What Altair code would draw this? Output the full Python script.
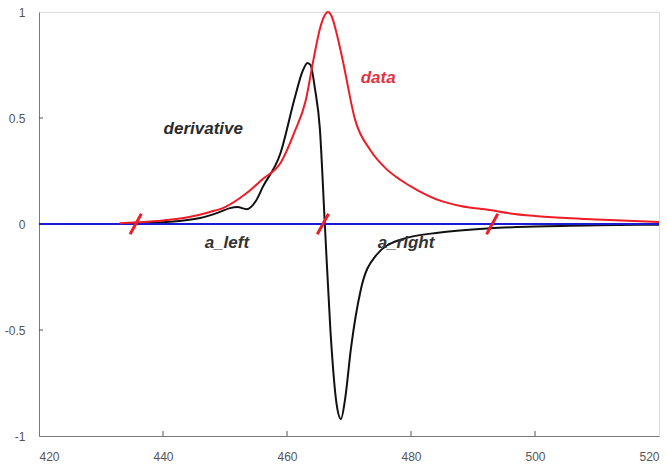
import altair as alt
import pandas as pd

# Spectrum (normalised) and its derivative
data_x = [433, 436, 440, 444, 447.6, 450, 453.5, 456, 459, 461.3, 463, 464.3,
          465.3, 466.0, 466.6, 467.2, 468, 469, 471, 473.4, 476, 478.2, 481,
          484.7, 488, 492.7, 496, 500, 505, 510, 515, 520]
data_y = [0.003, 0.008, 0.017, 0.032, 0.057, 0.08, 0.146, 0.21, 0.29, 0.44,
          0.58, 0.78, 0.92, 0.98, 1.0, 0.98, 0.9, 0.77, 0.49, 0.35, 0.26, 0.21,
          0.16, 0.11, 0.085, 0.066, 0.05, 0.038, 0.028, 0.021, 0.015, 0.01]

deriv_x = [434, 440, 446, 449, 450.8, 452, 453.5, 455, 456.1, 458.9, 461.3,
           462.5, 463.3, 463.8, 464.5, 465.3, 466.1, 467, 468, 468.7, 469.4,
           470.3, 471.9, 474.3, 478.2, 484.7, 492.7, 500, 510, 520]
deriv_y = [0.0, 0.008, 0.028, 0.055, 0.075, 0.08, 0.07, 0.11, 0.175, 0.33,
           0.6, 0.72, 0.76, 0.75, 0.64, 0.45, 0.0, -0.5, -0.85, -0.92, -0.82,
           -0.59, -0.31, -0.15, -0.075, -0.04, -0.02, -0.012, -0.006, -0.003]

# Zero crossings marked on the baseline
marker_x = [435.6, 465.8, 493.1]

# Annotations
label_text = ["derivative", "data", "a_left", "a_right"]
label_x = [446.5, 474.7, 450.3, 479.2]
label_y = [0.45, 0.69, -0.09, -0.09]
label_color = ["#2b2b2b", "#e23345", "#333333", "#333333"]

x_ticks = [420, 440, 460, 480, 500, 520]
y_ticks = [-1, -0.5, 0, 0.5, 1]

W, H = 620, 424

xs = alt.Scale(domain=[420, 520], nice=False, zero=False)
ys = alt.Scale(domain=[-1, 1], nice=False)

x_axis = alt.Axis(values=x_ticks, ticks=False, grid=False, labelPadding=15,
                  labelFontSize=12, labelColor="#555555", domainColor="#7a7a7a",
                  labelFont="Liberation Sans", title=None)
y_axis = alt.Axis(values=y_ticks, ticks=False, grid=False, labelPadding=14,
                  labelFontSize=12, labelColor="#555555", domainColor="#7a7a7a",
                  labelFont="Liberation Sans", title=None,
                  labelExpr="datum.value + ''")

df_data = pd.DataFrame({"x": data_x, "y": data_y})
df_der = pd.DataFrame({"x": deriv_x, "y": deriv_y})
df_zero = pd.DataFrame({"x": [420, 520], "y": [0, 0]})
df_mark = pd.DataFrame({"x": marker_x, "y": [0] * len(marker_x)})
df_lab = pd.DataFrame({"t": label_text, "x": label_x, "y": label_y, "c": label_color})
df_xt = pd.DataFrame({"v": x_ticks[1:-1]})
df_yt = pd.DataFrame({"v": [-0.5, 0.5]})

deriv = alt.Chart(df_der).mark_line(color="#111111", strokeWidth=2,
                                    interpolate="monotone").encode(
    x=alt.X("x:Q", scale=xs, axis=x_axis),
    y=alt.Y("y:Q", scale=ys, axis=y_axis),
)

base_line = alt.Chart(df_zero).mark_line(color="#1a1ad4", strokeWidth=2).encode(
    x=alt.X("x:Q", scale=xs), y=alt.Y("y:Q", scale=ys))

spec = alt.Chart(df_data).mark_line(color="#ee1c25", strokeWidth=2,
                                    interpolate="monotone").encode(
    x=alt.X("x:Q", scale=xs), y=alt.Y("y:Q", scale=ys))

slashes = alt.Chart(df_mark).mark_point(
    shape="M-0.55,1L0.55,-1", size=420, filled=False, color="#e8202a",
    strokeWidth=3, opacity=1).encode(
    x=alt.X("x:Q", scale=xs), y=alt.Y("y:Q", scale=ys))

labels = alt.Chart(df_lab).mark_text(
    font="Liberation Sans", fontSize=17, fontStyle="italic", fontWeight="bold",
    align="center", baseline="middle").encode(
    x=alt.X("x:Q", scale=xs), y=alt.Y("y:Q", scale=ys),
    text="t:N", color=alt.Color("c:N", scale=None))

# inward tick marks
xticks = alt.Chart(df_xt).mark_rule(color="#555555").encode(
    x=alt.X("v:Q", scale=xs), y=alt.value(H), y2=alt.value(H - 5))
yticks = alt.Chart(df_yt).mark_rule(color="#555555").encode(
    y=alt.Y("v:Q", scale=ys), x=alt.value(0), x2=alt.value(4))

chart = alt.layer(deriv, base_line, spec, slashes, labels, xticks, yticks).properties(
    width=W, height=H,
    autosize=alt.AutoSizeParams(type="none"),
    padding={"left": 39, "top": 12, "right": 8, "bottom": 28},
).configure_view(stroke="#7a7a7a", strokeWidth=1).configure(background="white")

chart.save("out.html", embed_options={"renderer": "svg", "actions": False})
